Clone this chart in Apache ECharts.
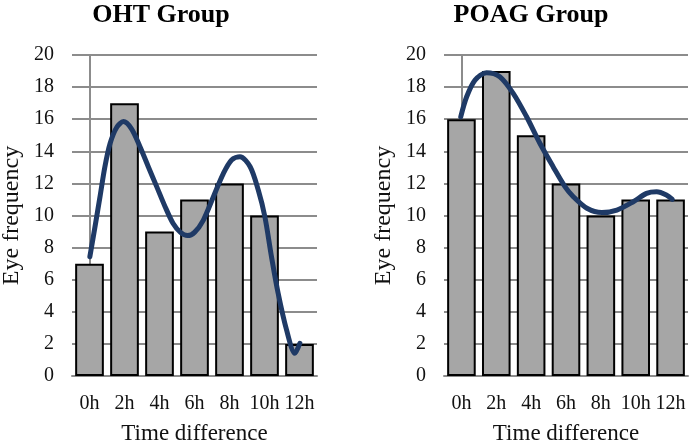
<!DOCTYPE html>
<html>
<head>
<meta charset="utf-8">
<script src="https://cdn.jsdelivr.net/npm/echarts@6/dist/echarts.min.js"></script>
<style>html,body{margin:0;padding:0;background:#fff}#c{width:693px;height:446px}</style>
</head>
<body>
<div id="c"></div>
<script>
var categories = ['0h','2h','4h','6h','8h','10h','12h'];
var ohtBars = [7, 17, 9, 11, 12, 10, 2];
var poagBars = [16, 19, 15, 12, 10, 11, 11];
var yTicks = [0, 20, 2]; // min, max, interval

// Trend curves (x in category index units)
var ohtCurveX = [0.01, 0.157, 0.3, 0.44, 0.59, 0.78, 0.97, 1.2, 1.44, 1.68, 1.92, 2.16, 2.39, 2.6, 2.8, 3.0, 3.25, 3.54, 3.82, 4.06, 4.3, 4.59, 4.82, 5.01, 5.2, 5.39, 5.63, 5.87, 6.01];
var ohtCurveY = [7.43, 9.3, 11.17, 13.04, 14.5, 15.5, 15.85, 15.4, 14.3, 13.04, 11.8, 10.55, 9.5, 8.95, 8.75, 8.95, 9.7, 11.17, 12.6, 13.46, 13.66, 13.04, 11.6, 9.93, 7.43, 5.15, 2.87, 1.41, 2.04];
var poagCurveX = [-0.02, 0.15, 0.39, 0.72, 1.1, 1.49, 1.87, 2.25, 2.63, 2.97, 3.21, 3.6, 4.03, 4.46, 4.93, 5.31, 5.6, 5.88, 6.05];
var poagCurveY = [16.15, 17.4, 18.44, 18.9, 18.65, 17.6, 16.15, 14.5, 13.04, 11.8, 11.17, 10.45, 10.18, 10.34, 10.86, 11.38, 11.48, 11.28, 11.0];

function pairs(xs, ys){ return xs.map(function(x,i){ return [x, ys[i]]; }); }

var serif = '"Liberation Serif", "DejaVu Serif", serif';
var gridCol = '#8c8c8c';

function yAxis(gi){
  return {
    type:'value', gridIndex:gi, min:yTicks[0], max:yTicks[1], interval:yTicks[2],
    name:'Eye frequency', nameLocation:'middle', nameGap:48,
    nameTextStyle:{fontFamily:serif, fontSize:24, color:'#111'},
    axisLine:{show:true, lineStyle:{color:gridCol, width:2}},
    axisTick:{show:true, length:5, lineStyle:{color:gridCol, width:2}},
    axisLabel:{fontFamily:serif, fontSize:20, color:'#111', margin:18},
    splitLine:{show:true, lineStyle:{color:gridCol, width:2}}
  };
}
function xCat(gi){
  return {
    type:'category', gridIndex:gi, data:categories,
    name:'Time difference', nameLocation:'middle', nameGap:46,
    nameTextStyle:{fontFamily:serif, fontSize:23, color:'#111'},
    axisLine:{show:true, lineStyle:{color:gridCol, width:2}},
    axisTick:{show:false},
    axisLabel:{fontFamily:serif, fontSize:20, color:'#111', margin:18, interval:0}
  };
}
function xVal(gi){
  return {type:'value', gridIndex:gi, min:-0.5, max:6.5, show:false};
}

var chart = echarts.init(document.getElementById('c'), null, {renderer:'canvas'});
chart.setOption({
  animation:false,
  backgroundColor:'#fff',
  title:[
    {text:'OHT Group', left:156, top:-3, textAlign:'center', textStyle:{fontFamily:serif, fontSize:26, fontWeight:'bold', color:'#000'}},
    {text:'POAG Group', left:526, top:-3, textAlign:'center', textStyle:{fontFamily:serif, fontSize:26, fontWeight:'bold', color:'#000'}}
  ],
  grid:[
    {left:72, right:376, top:55, bottom:70, containLabel:false, outerBoundsMode:'none'},
    {left:444, right:5, top:55, bottom:70, containLabel:false, outerBoundsMode:'none'}
  ],
  xAxis:[xCat(0), xCat(1), xVal(0), xVal(1)],
  yAxis:[yAxis(0), yAxis(1)],
  series:[
    {type:'bar', xAxisIndex:0, yAxisIndex:0, data:ohtBars, barCategoryGap:'18%',
     itemStyle:{color:'#a6a6a6', borderColor:'#000', borderWidth:2}},
    {type:'bar', xAxisIndex:1, yAxisIndex:1, data:poagBars, barCategoryGap:'18%',
     itemStyle:{color:'#a6a6a6', borderColor:'#000', borderWidth:2}},
    {type:'line', xAxisIndex:2, yAxisIndex:0, data:pairs(ohtCurveX, ohtCurveY), smooth:0.3, showSymbol:false,
     lineStyle:{color:'#1f3a66', width:5, cap:'round', join:'round'}},
    {type:'line', xAxisIndex:3, yAxisIndex:1, data:pairs(poagCurveX, poagCurveY), smooth:0.3, showSymbol:false,
     lineStyle:{color:'#1f3a66', width:5, cap:'round', join:'round'}}
  ]
});
</script>
</body>
</html>
